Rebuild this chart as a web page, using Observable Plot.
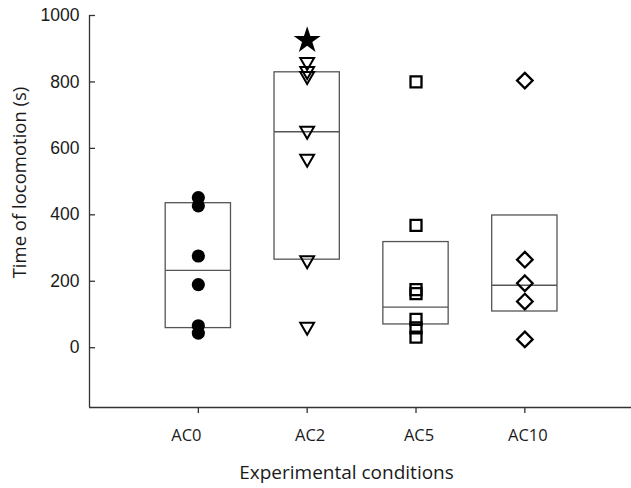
<!DOCTYPE html>
<html>
<head>
<meta charset="utf-8">
<script src="https://cdn.jsdelivr.net/npm/d3@7"></script>
<script src="https://cdn.jsdelivr.net/npm/@observablehq/plot@0.6"></script>
<style>
  html, body { margin: 0; padding: 0; background: #fff; }
  #chart svg { display: block; }
</style>
</head>
<body>
<div id="chart"></div>
<script>
// ---- data ----
const categories = ["AC0", "AC2", "AC5", "AC10"];
const positions = [1, 2, 3, 4];
const yTicks = [0, 200, 400, 600, 800, 1000];

const ac0Values = [452, 427, 276, 190, 66, 44];
const ac2Values = [860, 833, 818, 653, 569, 263, 63];
const ac2Star = [925];
const ac5Values = [800, 368, 175, 163, 85, 60, 32];
const ac10Values = [804, 265, 194, 139, 25];

const boxLow = [59, 265, 70, 109];
const boxMedian = [233, 650, 122, 188];
const boxHigh = [435, 829, 318, 398];

const xTitle = "Experimental conditions";
const yTitle = "Time of locomotion (s)";

// ---- tables built from the arrays ----
const boxes = categories.map((c, i) => ({
  pos: positions[i], low: boxLow[i], med: boxMedian[i], high: boxHigh[i]
}));
const pts = (vals, i) => vals.map(v => ({pos: positions[i], v}));
const ac0 = pts(ac0Values, 0);
const ac2 = pts(ac2Values, 1);
const star = pts(ac2Star, 1);
const ac5 = pts(ac5Values, 2);
const ac10 = pts(ac10Values, 3);
const firstLabel = [{pos: positions[0], label: categories[0]}];
const otherLabels = categories.slice(1).map((c, i) => ({pos: positions[i + 1], label: c}));

const xDomain = [0, 4.98];
const yDomain = [-180, 1000];
const halfBox = 0.3;
const axisColor = "#333";
const boxColor = "#555";
const labelFont = "Open Sans, sans-serif";

const chart = Plot.plot({
  width: 631,
  height: 488,
  marginLeft: 89,
  marginRight: 0,
  marginTop: 15,
  marginBottom: 81,
  style: {background: "#fff", overflow: "visible"},
  x: {type: "linear", domain: xDomain, axis: null},
  y: {domain: yDomain, axis: null},
  marks: [
    // boxes
    Plot.rect(boxes, {x1: d => d.pos - halfBox, x2: d => d.pos + halfBox, y1: "low", y2: "high",
      fill: "none", stroke: boxColor, strokeWidth: 1.3}),
    Plot.ruleY(boxes, {x1: d => d.pos - halfBox, x2: d => d.pos + halfBox, y: "med",
      stroke: boxColor, strokeWidth: 1.3}),
    // points
    Plot.dot(ac0, {x: "pos", y: "v", r: 6.6, fill: "#000", symbol: "circle"}),
    Plot.dot(ac2, {x: "pos", y: "v", r: 6.6, symbol: "triangle2", rotate: 180,
      fill: "none", stroke: "#000", strokeWidth: 2}),
    Plot.dot(star, {x: "pos", y: "v", r: 8.5, symbol: "star", fill: "#000"}),
    Plot.dot(ac5, {x: "pos", y: "v", r: 6.2, symbol: "square", fill: "none", stroke: "#000", strokeWidth: 2.3}),
    Plot.dot(ac10, {x: "pos", y: "v", r: 7.0, symbol: "diamond2", fill: "none", stroke: "#000", strokeWidth: 2.3}),
    // axes
    Plot.ruleX([xDomain[0]], {stroke: axisColor, strokeWidth: 1.3}),
    Plot.ruleY([yDomain[0]], {stroke: axisColor, strokeWidth: 1.3}),
    Plot.ruleY(yTicks, {y: d => d, x1: xDomain[0], x2: xDomain[0], insetRight: -6, stroke: axisColor, strokeWidth: 1.3}),
    Plot.ruleX(positions, {x: d => d, y1: yDomain[0], y2: yDomain[0], insetBottom: -6, stroke: axisColor, strokeWidth: 1.3}),
    Plot.text(yTicks, {x: xDomain[0], y: d => d, text: d => String(d), dx: -10, textAnchor: "end",
      fontFamily: "Liberation Sans, Arial, sans-serif", fontSize: 17.5, fill: "#1a1a1a"}),
    Plot.text(firstLabel, {x: "pos", y: yDomain[0], text: "label", dx: -12, dy: 28,
      fontFamily: labelFont, fontSize: 16.5, fill: "#1a1a1a"}),
    Plot.text(otherLabels, {x: "pos", y: yDomain[0], text: "label", dx: 3, dy: 28,
      fontFamily: labelFont, fontSize: 16.5, fill: "#1a1a1a"}),
    Plot.text([xTitle], {frameAnchor: "bottom", text: d => d, dx: -14, dy: 65,
      textAnchor: "middle", lineAnchor: "middle",
      fontFamily: labelFont, fontSize: 19, fill: "#1a1a1a"}),
    Plot.text([yTitle], {frameAnchor: "left", text: d => d, rotate: -90, dx: -69, dy: -29,
      textAnchor: "middle", lineAnchor: "middle",
      fontFamily: labelFont, fontSize: 18.5, fill: "#1a1a1a"})
  ]
});
document.getElementById("chart").appendChild(chart);
</script>
</body>
</html>
